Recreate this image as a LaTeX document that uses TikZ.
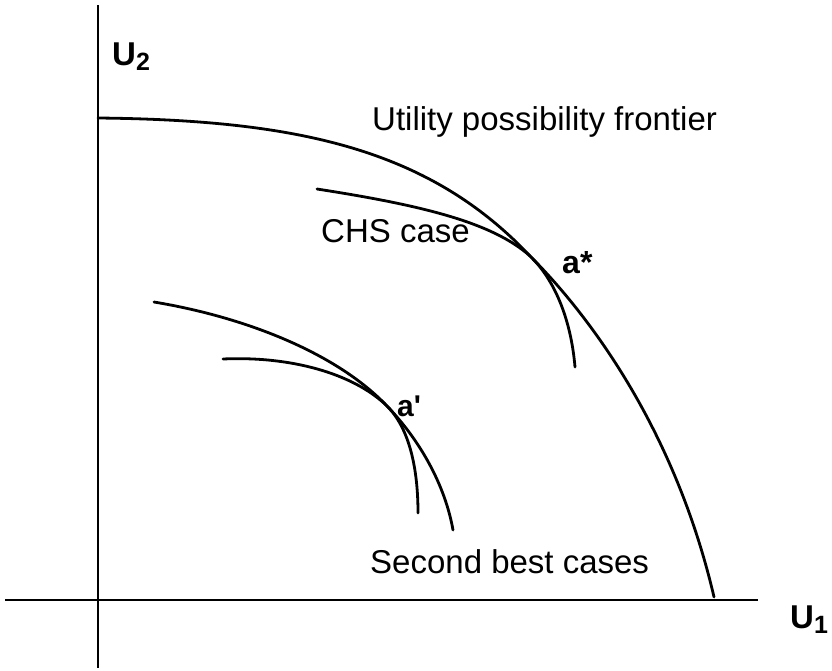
\documentclass[tikz,border=0pt]{standalone}
\usepackage{fontspec}
\setmainfont{Liberation Sans}
\tikzset{
  axisln/.style = {line width=2.6pt},
  crv/.style    = {line width=2.8pt, line cap=round},
  lbl/.style    = {font=\fontsize{33}{38}\selectfont, anchor=base west, inner sep=0pt},
  ptlbl/.style  = {lbl, font=\fontsize{32}{36}\selectfont\bfseries},
  axlbl/.style  = {lbl, font=\fontsize{33}{38}\selectfont\bfseries}
}
\newcommand{\axsub}[1]{\raisebox{-5pt}{\fontsize{25}{25}\selectfont #1}}

\begin{document}
\begin{tikzpicture}[x=1pt, y=-1pt]
\useasboundingbox (0,0) rectangle (832,670);
% ---- axes ----
\draw[axisln] (98,5) -- (98,668);
\draw[axisln] (5,600) -- (758,600);
\node[axlbl] (utwo) at (112,65) {U\axsub{2}};
\node[axlbl] (uone) at (790,628) {U\axsub{1}};

% ---- utility possibility frontier ----
\draw[crv] (98,118) .. controls (300,120) and (430,150) .. (530,256)
  .. controls (590,316) and (675,430) .. (714,597);
\node[lbl] (upf) at (372,130) {Utility possibility frontier};

% ---- CHS case, tangent at a* ----
\draw[crv] (317,189) .. controls (420,205) and (492,222) .. (530,256)
  .. controls (555,280) and (571,320) .. (575,367);
\node[lbl] (chs) at (321,242) {CHS case};
\node[ptlbl] (astar) at (562,273) {a*};

% ---- second best cases, tangent at a' ----
\draw[crv] (154,302) .. controls (250,318) and (338,355) .. (386,405)
  .. controls (420,440) and (445,485) .. (453,530);
\draw[crv] (223,359) .. controls (290,356) and (352,373) .. (386,405)
  .. controls (410,428) and (418,470) .. (418,513);
\node[ptlbl, font=\fontsize{30}{34}\selectfont\bfseries] (aprime) at (397,416) {a\textquotesingle};
\node[lbl] (sbc) at (370,573) {Second best cases};
\end{tikzpicture}
\end{document}
